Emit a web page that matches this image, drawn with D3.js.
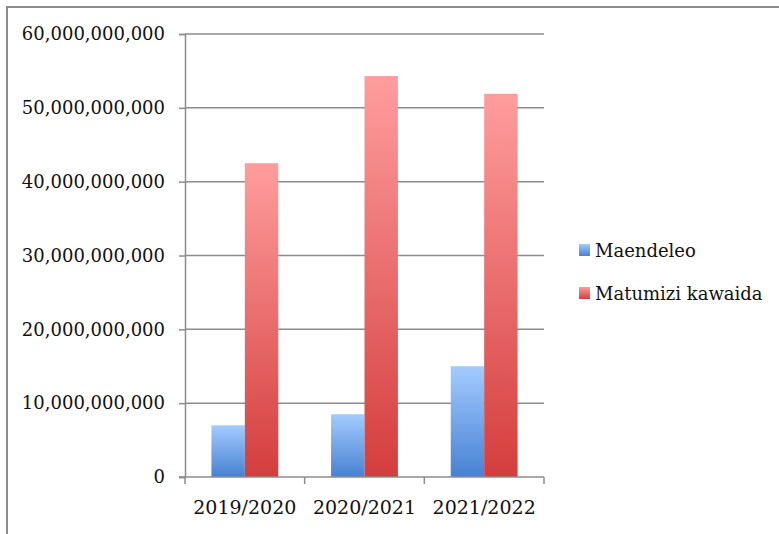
<!DOCTYPE html>
<html>
<head>
<meta charset="utf-8">
<script src="https://cdn.jsdelivr.net/npm/d3@7"></script>
<style>
  body { margin: 0; background: #fff; }
  text { font-family: 'DejaVu Serif', serif; fill: #111; }
</style>
</head>
<body>
<div id="chart"></div>
<script>
// data
var years      = ['2019/2020', '2020/2021', '2021/2022'];
var seriesKeys = ['Maendeleo', 'Matumizi kawaida'];
var maendeleo  = [7.0e9, 8.5e9, 15.0e9];
var matumizi   = [42.5e9, 54.3e9, 51.9e9];
var yTicks     = [0, 10e9, 20e9, 30e9, 40e9, 50e9, 60e9];

var W = 779, H = 534;
var GRID = '#8c8c8c';

var svg = d3.select('#chart').append('svg')
            .attr('width', W)
            .attr('height', H);

// outer frame (top and left edges only visible)
svg.append('path')
   .attr('d', 'M7,' + H + 'V7H' + W)
   .attr('fill', 'none')
   .attr('stroke', GRID)
   .attr('stroke-width', 2);

// gradients for the bars and legend swatches
var defs = svg.append('defs');
[
    { id : 'gBlue', top : '#a3cbff', bottom : '#4781d3' },
    { id : 'gRed',  top : '#ff9d9d', bottom : '#d43d3d' }
].forEach(function(g) {
    var lg = defs.append('linearGradient')
                 .attr('id', g.id)
                 .attr('x1', 0).attr('y1', 0).attr('x2', 0).attr('y2', 1);
    lg.append('stop').attr('offset', '0%').attr('stop-color', g.top);
    lg.append('stop').attr('offset', '100%').attr('stop-color', g.bottom);
});
var fills = ['url(#gBlue)', 'url(#gRed)'];

var x0 = d3.scaleBand().domain(years).range([185, 544]).padding(0);
var x1 = d3.scaleBand().domain(seriesKeys).range([0, x0.bandwidth()])
           .paddingInner(0).paddingOuter(0.79);
var y  = d3.scaleLinear().domain([0, 60e9]).range([477, 34]);

// horizontal grid lines
svg.append('g')
   .selectAll('line')
   .data(yTicks.slice(1))
   .enter()
   .append('line')
   .attr('x1', 185).attr('x2', 544)
   .attr('y1', function(d) { return y(d); })
   .attr('y2', function(d) { return y(d); })
   .attr('stroke', GRID)
   .attr('stroke-width', 1.5);

// bars
var rows = years.map(function(yr, i) {
    return { year : yr, values : [maendeleo[i], matumizi[i]] };
});
svg.append('g')
   .selectAll('g')
   .data(rows)
   .enter()
   .append('g')
   .attr('transform', function(d) { return 'translate(' + x0(d.year) + ',0)'; })
   .selectAll('rect')
   .data(function(d) { return d.values.map(function(v, k) { return { key : seriesKeys[k], k : k, v : v }; }); })
   .enter()
   .append('rect')
   .attr('x', function(d) { return x1(d.key); })
   .attr('y', function(d) { return y(d.v); })
   .attr('width', x1.bandwidth())
   .attr('height', function(d) { return y(0) - y(d.v); })
   .attr('fill', function(d) { return fills[d.k]; });

// y axis
var yAxis = svg.append('g')
   .attr('transform', 'translate(185,0)')
   .call(d3.axisLeft(y).tickValues(yTicks).tickSize(6).tickPadding(14)
           .tickFormat(d3.format(',')));
yAxis.select('.domain').attr('stroke', GRID).attr('stroke-width', 1.5);
yAxis.selectAll('.tick line').attr('stroke', GRID).attr('stroke-width', 1.5);
yAxis.selectAll('.tick text')
     .attr('font-family', 'DejaVu Serif, serif')
     .attr('font-size', 18)
     .attr('fill', '#111');

// x axis with ticks at category boundaries
var xAxis = svg.append('g')
   .attr('transform', 'translate(0,477)');
xAxis.append('line')
     .attr('x1', 179).attr('x2', 544)
     .attr('stroke', GRID).attr('stroke-width', 1.5);
xAxis.selectAll('line.bound')
     .data(years.map(function(d) { return x0(d); }).concat([x0.range()[1]]))
     .enter()
     .append('line')
     .attr('class', 'bound')
     .attr('x1', function(d) { return d; })
     .attr('x2', function(d) { return d; })
     .attr('y1', 0).attr('y2', 7)
     .attr('stroke', GRID).attr('stroke-width', 1.5);
xAxis.selectAll('text')
     .data(years)
     .enter()
     .append('text')
     .attr('x', function(d) { return x0(d) + x0.bandwidth() / 2; })
     .attr('y', 37)
     .attr('text-anchor', 'middle')
     .attr('font-size', 19)
     .text(function(d) { return d; });

// legend
var legend = svg.append('g')
   .selectAll('g')
   .data(seriesKeys)
   .enter()
   .append('g')
   .attr('transform', function(d, i) { return 'translate(579,' + (244 + i * 43) + ')'; });
legend.append('rect')
      .attr('width', 11).attr('height', 12)
      .attr('fill', function(d, i) { return fills[i]; });
legend.append('text')
      .attr('x', 16).attr('y', 13)
      .attr('font-size', 18)
      .text(function(d) { return d; });
</script>
</body>
</html>
